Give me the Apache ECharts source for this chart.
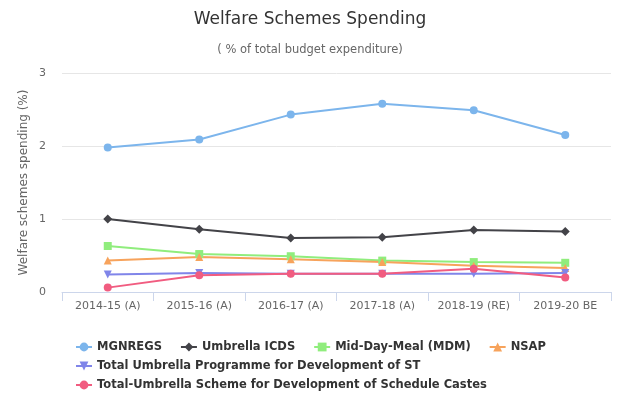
<!DOCTYPE html>
<html>
<head>
    <meta charset="utf-8">
    <title>Welfare Schemes Spending</title>
    <script src="https://cdn.jsdelivr.net/npm/echarts@6/dist/echarts.min.js"></script>
    <style>
        html, body { margin: 0; padding: 0; background: #fff; }
        #chart1 { width: 620px; height: 413px; }
    </style>
</head>
<body>
<div id="chart1"></div>
<script type="text/javascript">
    // 数据
    var years = ['2014-15 (A)', '2015-16 (A)', '2016-17 (A)', '2017-18 (A)', '2018-19 (RE)', '2019-20 BE'];
    var mgnregs = [1.98, 2.09, 2.43, 2.58, 2.49, 2.15];
    var icds = [1.00, 0.86, 0.74, 0.75, 0.85, 0.83];
    var mdm = [0.63, 0.52, 0.49, 0.43, 0.41, 0.40];
    var nsap = [0.43, 0.48, 0.45, 0.41, 0.36, 0.33];
    var stDev = [0.24, 0.26, 0.25, 0.25, 0.25, 0.26];
    var scDev = [0.06, 0.23, 0.25, 0.25, 0.32, 0.20];

    var font = 'DejaVu Sans';
    var myChart1 = echarts.init(document.getElementById('chart1'));

    function line(name, data, color, symbol, rotate) {
        return {
            name: name,
            type: 'line',
            data: data,
            symbol: symbol,
            symbolSize: symbol === 'diamond' ? 9 : 8,
            symbolRotate: rotate || 0,
            itemStyle: { color: color },
            lineStyle: { color: color, width: 2 },
            emphasis: { disabled: true }
        };
    }

    // 图例分三行
    function legendRow(top, names) {
        return {
            left: 70,
            top: top,
            itemGap: 18,
            itemWidth: 16,
            itemHeight: 11,
            textStyle: { fontSize: 11.5, fontWeight: 'bold', color: '#333', fontFamily: font },
            data: names
        };
    }

    myChart1.setOption({
        animation: false,
        textStyle: { fontFamily: font },
        title: {
            text: 'Welfare Schemes Spending',
            subtext: '( % of total budget expenditure)',
            left: 'center',
            top: 6,
            itemGap: 16,
            textStyle: { fontSize: 17, fontWeight: 'normal', color: '#333', fontFamily: font },
            subtextStyle: { fontSize: 11.5, color: '#666', fontFamily: font }
        },
        legend: [
            legendRow(336, ['MGNREGS', 'Umbrella ICDS', 'Mid-Day-Meal (MDM)', 'NSAP']),
            legendRow(355, ['Total Umbrella Programme for Development of ST']),
            legendRow(374, ['Total-Umbrella Scheme for Development of Schedule Castes'])
        ],
        grid: { left: 62, right: 9, top: 73, bottom: 121 },
        xAxis: {
            type: 'category',
            data: years,
            boundaryGap: true,
            axisLine: { lineStyle: { color: '#ccd6eb' } },
            axisTick: { show: true, length: 9, lineStyle: { color: '#ccd6eb' } },
            axisLabel: { color: '#666', fontSize: 11, margin: 9, interval: 0 }
        },
        yAxis: {
            type: 'value',
            min: 0,
            max: 3,
            interval: 1,
            name: 'Welfare schemes spending (%)',
            nameLocation: 'middle',
            nameGap: 32,
            nameMoveOverlap: false,
            nameTextStyle: { color: '#666', fontSize: 12 },
            axisLine: { show: false },
            axisTick: { show: false },
            axisLabel: { color: '#666', fontSize: 11, margin: 16 },
            splitLine: { lineStyle: { color: '#e6e6e6' } }
        },
        series: [
            line('MGNREGS', mgnregs, '#7cb5ec', 'circle'),
            line('Umbrella ICDS', icds, '#434348', 'diamond'),
            line('Mid-Day-Meal (MDM)', mdm, '#90ed7d', 'rect'),
            line('NSAP', nsap, '#f7a35c', 'triangle'),
            line('Total Umbrella Programme for Development of ST', stDev, '#8085e9', 'triangle', 180),
            line('Total-Umbrella Scheme for Development of Schedule Castes', scDev, '#f15c80', 'circle')
        ]
    });
</script>
</body>
</html>
